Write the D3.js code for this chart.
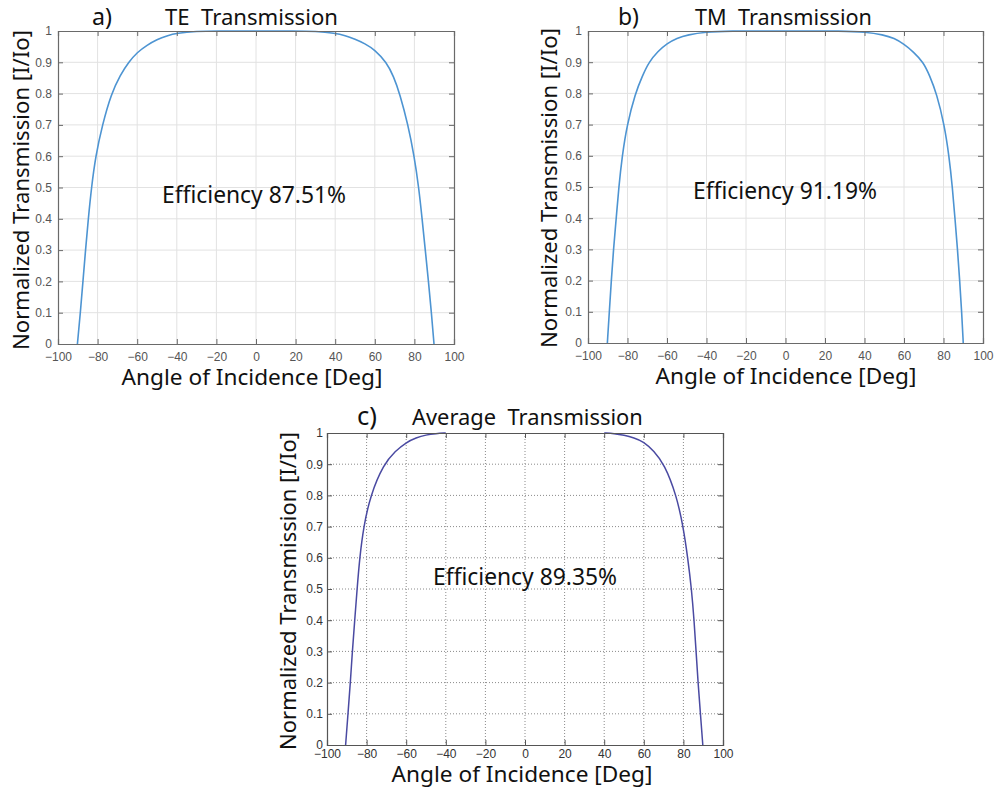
<!DOCTYPE html>
<html>
<head>
<meta charset="utf-8">
<script src="https://cdn.jsdelivr.net/npm/d3@7"></script>
<style>
  html, body { margin: 0; padding: 0; background: #ffffff; }
  svg { display: block; }
</style>
</head>
<body>
<svg id="chart" width="995" height="790"></svg>
<script>
// ---------- DATA ----------
const xTicks = [-100, -80, -60, -40, -20, 0, 20, 40, 60, 80, 100];
const yTicks = [0, 0.1, 0.2, 0.3, 0.4, 0.5, 0.6, 0.7, 0.8, 0.9, 1];
const yTickLabels = ["0", "0.1", "0.2", "0.3", "0.4", "0.5", "0.6", "0.7", "0.8", "0.9", "1"];

// a) TE transmission
const teAngles = [-90.2, -88.7, -87.4, -86.1, -84.7, -83.1, -81.0, -77.6, -73.1, -68.5, -64.4, -60, -55, -50, -45, -40, -30, -20, 0,
                  20, 30, 40, 45, 50, 55, 60, 65.9, 69.5, 72.6, 76.8, 79.9, 82.2, 83.9, 85.5, 87.1, 88.6, 89.9];
const teValues = [0, 0.1, 0.2, 0.3, 0.4, 0.5, 0.6, 0.7, 0.8, 0.86, 0.9, 0.932, 0.955, 0.973, 0.985, 0.993, 0.999, 1.0, 1.0,
                  1.0, 0.999, 0.993, 0.986, 0.974, 0.96, 0.94, 0.9, 0.855, 0.8, 0.7, 0.6, 0.5, 0.4, 0.3, 0.2, 0.1, 0];

// b) TM transmission
const tmAngles = [-90.2, -89.2, -88.2, -87.1, -85.7, -84.4, -82.7, -80.2, -76.1, -72.4, -69.2, -64.6, -60, -55, -49.6, -40, -30, 0,
                  30, 40, 49.6, 55, 60, 64.8, 69.8, 73.0, 76.5, 80.4, 82.8, 84.5, 85.8, 87.1, 88.2, 89.2, 90.0];
const tmValues = [0, 0.1, 0.2, 0.3, 0.4, 0.5, 0.6, 0.7, 0.8, 0.857, 0.9, 0.935, 0.96, 0.977, 0.988, 0.997, 1.0, 1.0,
                  1.0, 0.997, 0.988, 0.977, 0.958, 0.933, 0.9, 0.857, 0.8, 0.7, 0.6, 0.5, 0.4, 0.3, 0.2, 0.1, 0];

// c) Average transmission (drawn only for |angle| >= 40)
const avgLeftAngles = [-90.6, -89.4, -88.2, -87.2, -86.0, -84.8, -83.5, -81.5, -78.1, -71.4, -65.5, -60, -55, -50, -45, -40];
const avgLeftValues = [0, 0.1, 0.2, 0.3, 0.4, 0.5, 0.6, 0.7, 0.8, 0.9, 0.942, 0.97, 0.985, 0.994, 0.998, 1.0];
const avgRightAngles = [40, 45, 50, 55, 60, 65, 70.4, 76.5, 79.9, 82.2, 84.1, 85.4, 86.4, 87.4, 88.6, 89.8];
const avgRightValues = [1.0, 0.998, 0.993, 0.985, 0.972, 0.943, 0.9, 0.8, 0.7, 0.6, 0.5, 0.4, 0.3, 0.2, 0.1, 0];

const panelLetters = ["a)", "b)", "c)"];
const panelTitles = ["TE  Transmission", "TM  Transmission", "Average  Transmission"];
const efficiencyTexts = ["Efficiency 87.51%", "Efficiency 91.19%", "Efficiency 89.35%"];
const xLabel = "Angle of Incidence [Deg]";
const yLabel = "Normalized Transmission [I/Io]";

// ---------- DRAWING ----------
const svg = d3.select("#chart");
const labelFont = "'Noto Sans', 'Open Sans', sans-serif";
const tickFont = "'Liberation Sans', Arial, sans-serif";

function fitText(sel, targetWidth) {
  const node = sel.node();
  const fs = parseFloat(sel.attr("font-size"));
  const w = node.getComputedTextLength();
  if (w > 0) sel.attr("font-size", (fs * targetWidth / w).toFixed(2));
  return sel;
}

function zip(a, b) { return a.map((d, i) => ({ x: d, y: b[i] })); }

function panel(cfg) {
  const { left, right, top, bottom } = cfg;
  const x = d3.scaleLinear().domain([-100, 100]).range([left, right]);
  const y = d3.scaleLinear().domain([0, 1]).range([bottom, top]);
  const g = svg.append("g");

  // grid
  const grid = g.append("g");
  grid.selectAll("line.vg").data(xTicks.slice(1, -1)).join("line")
    .attr("x1", d => x(d)).attr("x2", d => x(d)).attr("y1", top).attr("y2", bottom)
    .attr("stroke", cfg.gridColor).attr("stroke-width", 1)
    .attr("stroke-dasharray", cfg.gridDash || null);
  grid.selectAll("line.hg").data(yTicks.slice(1, -1)).join("line")
    .attr("x1", left).attr("x2", right).attr("y1", d => y(d)).attr("y2", d => y(d))
    .attr("stroke", cfg.gridColor).attr("stroke-width", 1)
    .attr("stroke-dasharray", cfg.gridDash || null);

  // curves (B-spline through the read points, smoothing reading noise)
  const line = d3.line().x(d => x(d.x)).y(d => y(d.y)).curve(d3.curveBasis);
  cfg.series.forEach(s => {
    g.append("path").datum(s).attr("d", line)
      .attr("fill", "none").attr("stroke", cfg.lineColor).attr("stroke-width", cfg.lineWidth)
      .attr("stroke-linejoin", "round");
  });

  // axes with inward ticks on all sides
  const tl = 5;
  const xb = g.append("g").attr("transform", `translate(0,${bottom})`)
    .call(d3.axisBottom(x).tickValues(xTicks).tickSize(-tl).tickPadding(cfg.xPad).tickFormat(d3.format("d")));
  const xt = g.append("g").attr("transform", `translate(0,${top})`)
    .call(d3.axisTop(x).tickValues(xTicks).tickSize(-tl));
  const yl = g.append("g").attr("transform", `translate(${left},0)`)
    .call(d3.axisLeft(y).tickValues(yTicks).tickSize(-tl).tickPadding(cfg.yPad).tickFormat((d, i) => yTickLabels[i]));
  const yr = g.append("g").attr("transform", `translate(${right},0)`)
    .call(d3.axisRight(y).tickValues(yTicks).tickSize(-tl));
  xt.selectAll("text").remove();
  yr.selectAll("text").remove();
  [xb, xt, yl, yr].forEach(a => {
    a.select(".domain").attr("stroke", cfg.boxColor).attr("stroke-width", 1.2);
    a.selectAll(".tick line").attr("stroke", cfg.boxColor).attr("stroke-width", 1);
    a.selectAll("text").attr("fill", cfg.tickColor).attr("font-family", tickFont).attr("font-size", cfg.tickSize);
  });

  // title
  svg.append("text").attr("x", cfg.letterX).attr("y", cfg.titleY)
    .attr("font-family", labelFont).attr("font-size", 21).attr("fill", "#111")
    .text(panelLetters[cfg.idx]).call(s => fitText(s, cfg.letterW));
  svg.append("text").attr("x", cfg.titleX).attr("y", cfg.titleY)
    .attr("font-family", labelFont).attr("font-size", 21).attr("fill", "#111")
    .attr("xml:space", "preserve").style("white-space", "pre")
    .text(panelTitles[cfg.idx]).call(s => fitText(s, cfg.titleW));

  // efficiency
  svg.append("text").attr("x", cfg.effX).attr("y", cfg.effY)
    .attr("font-family", labelFont).attr("font-size", 20).attr("fill", "#111")
    .text(efficiencyTexts[cfg.idx]).call(s => fitText(s, cfg.effW));

  // axis labels
  svg.append("text").attr("x", cfg.xlX).attr("y", cfg.xlY).attr("text-anchor", "middle")
    .attr("font-family", labelFont).attr("font-size", 21).attr("fill", "#111")
    .text(xLabel).call(s => fitText(s, cfg.xlW));
  svg.append("text")
    .attr("transform", `translate(${cfg.ylX},${cfg.ylY}) rotate(-90)`).attr("text-anchor", "middle")
    .attr("font-family", labelFont).attr("font-size", 21).attr("fill", "#111")
    .text(yLabel).call(s => fitText(s, cfg.ylW));
}

panel({
  idx: 0, left: 58, right: 454, top: 31, bottom: 344,
  gridColor: "#e2e2e2", boxColor: "#6a6a6a", tickColor: "#555", tickSize: 12, xPad: 8, yPad: 6,
  lineColor: "#4d94d2", lineWidth: 1.6,
  series: [zip(teAngles, teValues)],
  letterX: 92, letterW: 20, titleX: 165, titleW: 173, titleY: 25,
  effX: 162, effY: 203, effW: 184,
  xlX: 252, xlY: 385, xlW: 261, ylX: 29, ylY: 190, ylW: 320
});

panel({
  idx: 1, left: 588, right: 983, top: 31, bottom: 343,
  gridColor: "#e2e2e2", boxColor: "#6a6a6a", tickColor: "#555", tickSize: 12, xPad: 8, yPad: 6,
  lineColor: "#4d94d2", lineWidth: 1.6,
  series: [zip(tmAngles, tmValues)],
  letterX: 618, letterW: 21, titleX: 695, titleW: 177, titleY: 25,
  effX: 693, effY: 199, effW: 184,
  xlX: 786, xlY: 384, xlW: 261, ylX: 557, ylY: 188, ylW: 320
});

panel({
  idx: 2, left: 327, right: 723, top: 433, bottom: 745,
  gridColor: "#8a8a8a", gridDash: "1,2", boxColor: "#555", tickColor: "#333", tickSize: 12, xPad: 4, yPad: 4,
  lineColor: "#4a4aa2", lineWidth: 1.5,
  series: [zip(avgLeftAngles, avgLeftValues), zip(avgRightAngles, avgRightValues)],
  letterX: 357, letterW: 20, titleX: 412, titleW: 231, titleY: 425,
  effX: 433, effY: 585, effW: 184,
  xlX: 522, xlY: 782, xlW: 261, ylX: 296, ylY: 591, ylW: 318
});
</script>
</body>
</html>
